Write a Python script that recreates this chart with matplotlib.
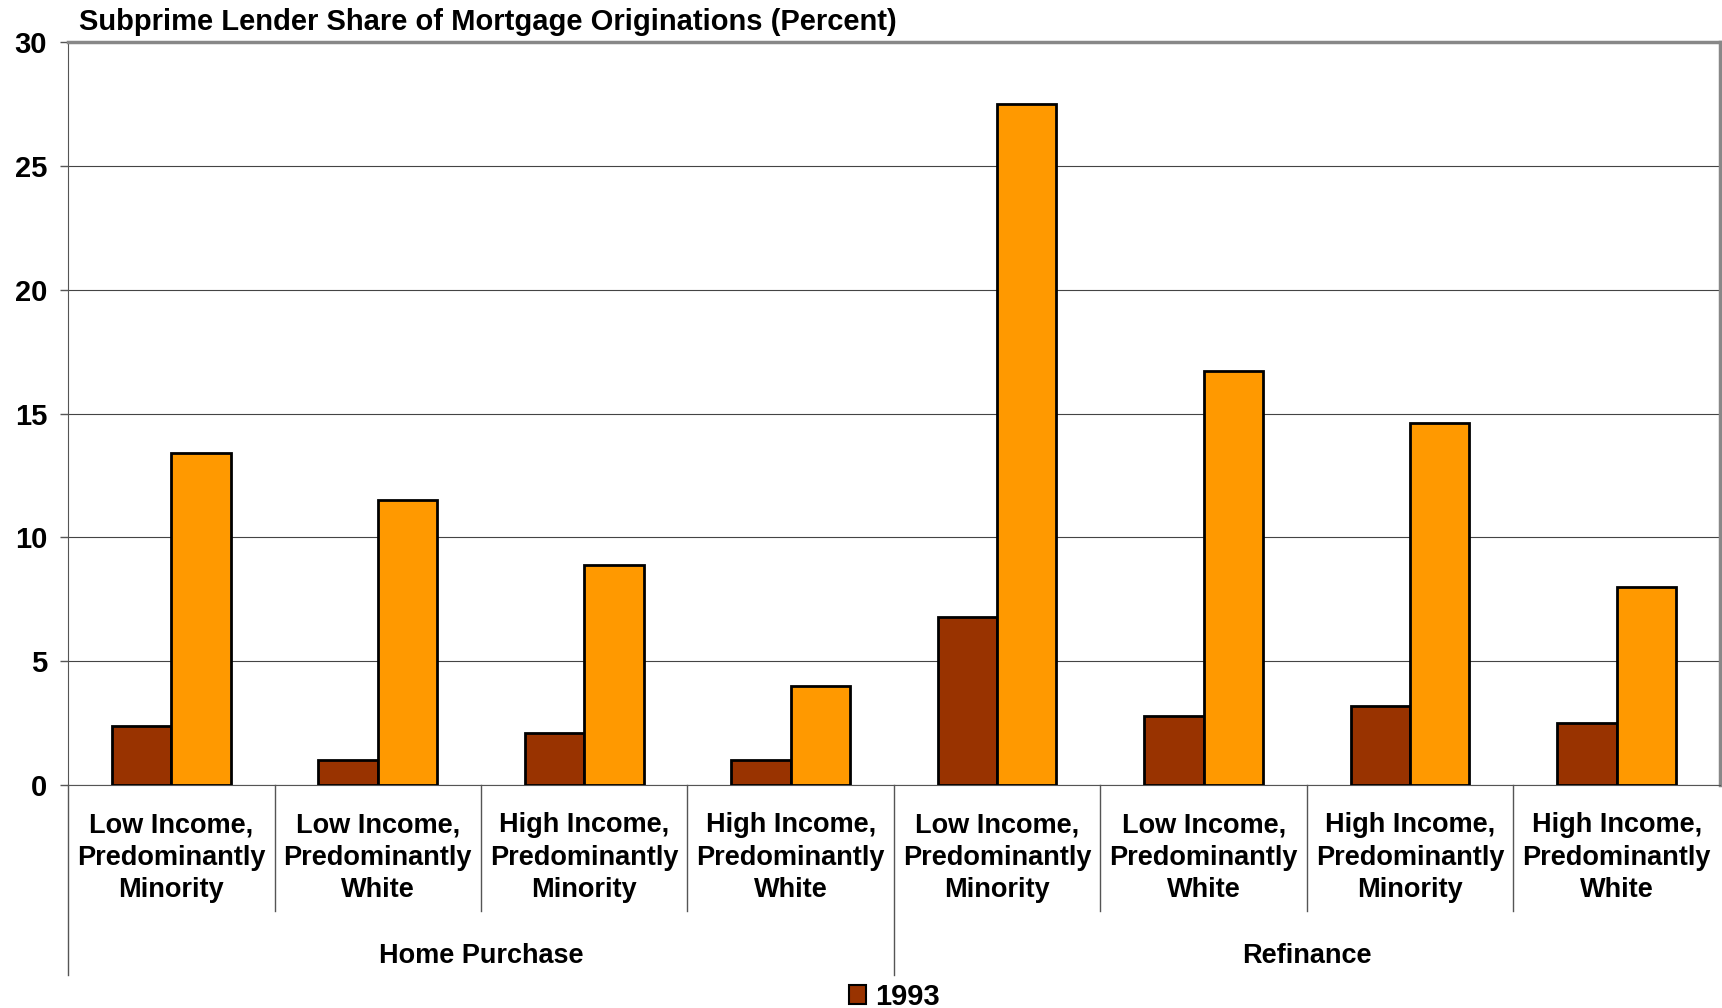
import matplotlib
matplotlib.use("Agg")
import matplotlib.pyplot as plt
import matplotlib.transforms as mtransforms
from matplotlib.patches import Patch
import numpy as np

plt.rcParams.update({'font.family': 'Liberation Sans'})
plt.rcParams.update({'font.weight': 'bold'})
plt.rcParams.update({'font.size': 19})

# data
categories = ["Low Income,\nPredominantly\nMinority", "Low Income,\nPredominantly\nWhite",
              "High Income,\nPredominantly\nMinority", "High Income,\nPredominantly\nWhite"] * 2
groups = ["Home Purchase", "Refinance"]
share_1993 = [2.4, 1.0, 2.1, 1.0, 6.8, 2.8, 3.2, 2.5]
share_later = [13.4, 11.5, 8.9, 4.0, 27.5, 16.7, 14.6, 8.0]
yticks = [0, 5, 10, 15, 20, 25, 30]

fig = plt.figure(figsize=(17.22, 10.08), dpi=100)
ax = fig.add_axes([0.0395, 0.2212, 0.9593, 0.7371])

x = np.arange(len(categories))
w = 0.287
ax.bar(x - w/2, share_1993, w, color='#993300', edgecolor='black', linewidth=2, zorder=3)
ax.bar(x + w/2, share_later, w, color='#FF9900', edgecolor='black', linewidth=2, zorder=3)

ax.set_xlim(-0.5, 7.5)
ax.set_ylim(0, 30)
ax.set_yticks(yticks)
ax.set_xticks([])
ax.yaxis.grid(True, color='#444444', linewidth=0.8)
ax.set_axisbelow(True)
ax.tick_params(axis='y', length=6, width=1, color='#555555', pad=9, labelsize=21)
for lab in ax.get_yticklabels():
    lab.set_fontweight('bold')

ax.spines['top'].set_color('#888888')
ax.spines['top'].set_linewidth(2.5)
ax.spines['right'].set_color('#888888')
ax.spines['right'].set_linewidth(2.5)
ax.spines['left'].set_color('#555555')
ax.spines['bottom'].set_color('#555555')

# category axis separators and labels
trans = mtransforms.blended_transform_factory(ax.transData, ax.transAxes)
for b in np.arange(-0.5, 7.5, 1.0):
    low = -0.256 if b in (-0.5, 3.5) else -0.170
    ax.plot([b, b], [0, low], color='#555555', linewidth=1, transform=trans, clip_on=False)

for i, c in enumerate(categories):
    ax.text(i, -0.098, c, transform=trans, ha='center', va='center',
            fontsize=19.5, fontweight='bold', linespacing=1.33)
for j, g in enumerate(groups):
    ax.text(1.5 + 4*j, -0.230, g, transform=trans, ha='center', va='center',
            fontsize=19.5, fontweight='bold')

fig.text(0.046, 0.978, 'Subprime Lender Share of Mortgage Originations (Percent)',
         ha='left', va='center', fontsize=21, fontweight='bold')

handles = [Patch(facecolor='#993300', edgecolor='black', linewidth=1.5, label='1993')]
ax.legend(handles=handles, loc='center', bbox_to_anchor=(0.5, -0.285), frameon=False,
          handlelength=0.6, handleheight=0.6, handletextpad=0.3,
          prop={'weight': 'bold', 'size': 21})

plt.savefig('out.png', dpi=100)
